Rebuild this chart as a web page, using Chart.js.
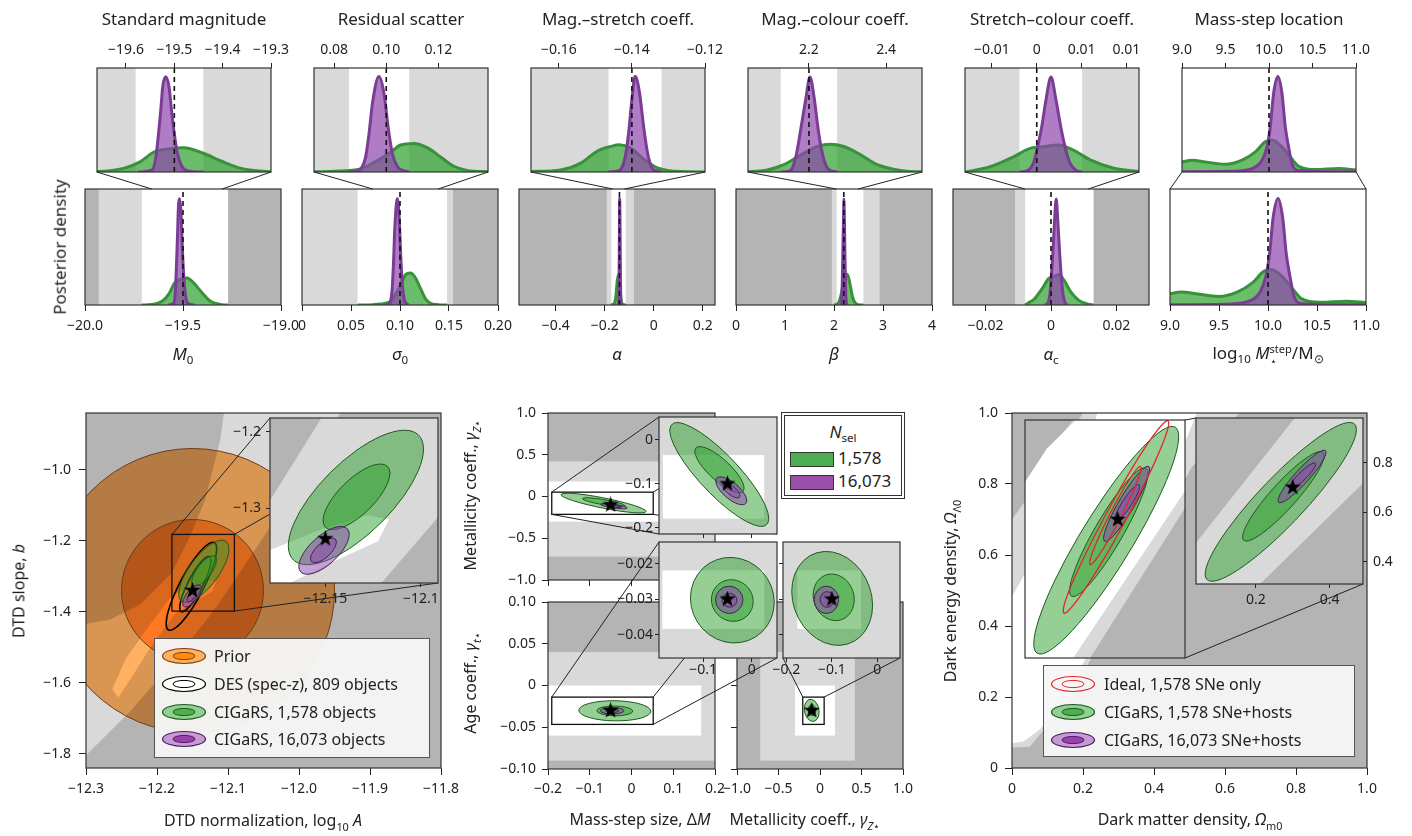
<!DOCTYPE html>
<html>
<head>
<meta charset="utf-8">
<title>CIGaRS posteriors</title>
<script src="https://cdn.jsdelivr.net/npm/chart.js@4.4.1/dist/chart.umd.min.js"></script>
<style>
  body { margin: 0; width: 1412px; height: 836px; position: relative; overflow: hidden; background: #fff;
         font-family: 'Noto Sans', sans-serif; color: #222; }
  canvas { position: absolute; }
  .lb { position: absolute; white-space: nowrap; transform: translate(-50%, -50%); z-index: 5; font-size: 16px; line-height: 1.2; }
  .rot { transform: translate(-50%, -50%) rotate(-90deg); }
  sub, sup { font-size: 0.68em; line-height: 0; }
  .stk { display: inline-block; vertical-align: -0.5em; font-size: 0.65em; line-height: 1; }
  .stk span { display: block; }
  .leg { position: absolute; z-index: 6; box-sizing: border-box; font-size: 16px; }
  .row { position: absolute; height: 20px; line-height: 20px; white-space: nowrap; }
</style>
</head>
<body>
<script>
// ---------- top row: 1-D posteriors ----------
var titles = ['Standard magnitude', 'Residual scatter', 'Mag.\u2013stretch coeff.',
              'Mag.\u2013colour coeff.', 'Stretch\u2013colour coeff.', 'Mass-step location'];
var paramNames = ['<i>M</i><sub>0</sub>', '<i>\u03c3</i><sub>0</sub>', '<i>\u03b1</i>', '<i>\u03b2</i>',
                  '<i>\u03b1</i><sub>c</sub>',
                  'log<sub>10</sub> <i>M</i><span class="stk"><span>step</span><span>\u22c6</span></span>/M<sub>\u2299</sub>'];
var truth = [-19.5, 0.1, -0.14, 2.2, 0, 10.0];

var zoomRange = [[-19.66, -19.3], [0.0723, 0.139], [-0.1676, -0.12], [2.042, 2.493], [-0.008, 0.0114], [9, 11]];
var zoomTicks = [[-19.6, -19.5, -19.4, -19.3], [0.08, 0.10, 0.12], [-0.16, -0.14, -0.12], [2.2, 2.4],
                 [-0.005, 0, 0.005, 0.01], [9, 9.5, 10, 10.5, 11]];
var zoomTickLabels = [['\u221219.6', '\u221219.5', '\u221219.4', '\u221219.3'], ['0.08', '0.10', '0.12'],
                      ['\u22120.16', '\u22120.14', '\u22120.12'], ['2.2', '2.4'],
                      ['\u22120.01', '0', '0.01', '0.01'], ['9.0', '9.5', '10.0', '10.5', '11.0']];
var zoomWhite = [[-19.58, -19.44], [0.0857, 0.1088], [-0.1464, -0.1319], [2.127, 2.273], [-0.00193, 0.00507], [9, 11]];

var fullRange = [[-20, -19], [0, 0.2], [-0.55, 0.25], [0, 4], [-0.03, 0.03], [9, 11]];
var fullTicks = [[-20, -19.5, -19], [0, 0.05, 0.1, 0.15, 0.2], [-0.4, -0.2, 0, 0.2], [0, 1, 2, 3, 4],
                 [-0.02, 0, 0.02], [9, 9.5, 10, 10.5, 11]];
var fullTickLabels = [['\u221220.0', '\u221219.5', '\u221219.0'], ['0', '0.05', '0.10', '0.15', '0.20'],
                      ['\u22120.4', '\u22120.2', '0', '0.2'], ['0', '1', '2', '3', '4'],
                      ['\u22120.02', '0', '0.02'], ['9.0', '9.5', '10.0', '10.5', '11.0']];
var fullLight = [[-19.93, -19.27], [-9, 0.154], [-0.192, -0.081], [1.957, 2.93], [-0.011, 0.013], [9, 11]];
var fullWhite = [[-19.71, -19.27], [0.0567, 0.148], [-0.173, -0.114], [2.055, 2.60], [-0.0079, 0.013], [9, 11]];

// density curves, [value, height as fraction of panel]
var purpleM0 = [[-19.575, 0], [-19.546, 0.02], [-19.539, 0.12], [-19.534, 0.31], [-19.528, 0.6], [-19.524, 0.82],
                [-19.518, 0.916], [-19.511, 0.82], [-19.506, 0.6], [-19.501, 0.4], [-19.494, 0.19], [-19.484, 0.05],
                [-19.473, 0.01], [-19.44, 0]];
var greenM0 = [[-19.71, 0], [-19.66, 0.004], [-19.605, 0.035], [-19.57, 0.1], [-19.543, 0.19], [-19.515, 0.22],
               [-19.48, 0.233], [-19.44, 0.18], [-19.404, 0.108], [-19.362, 0.035], [-19.3, 0.003], [-19.27, 0]];
var purpleS0 = [[0.0857, 0], [0.0889, 0.01], [0.0908, 0.05], [0.0921, 0.145], [0.0934, 0.37], [0.0947, 0.66],
                [0.0972, 0.919], [0.0991, 0.76], [0.1007, 0.435], [0.1023, 0.18], [0.1043, 0.05], [0.107, 0.01], [0.1088, 0]];
var greenS0 = [[0.057, 0], [0.0723, 0.003], [0.08, 0.008], [0.0902, 0.03], [0.0966, 0.11], [0.1017, 0.19],
               [0.1055, 0.26], [0.1106, 0.275], [0.1157, 0.235], [0.1208, 0.145], [0.1259, 0.055], [0.131, 0.015],
               [0.139, 0.003], [0.148, 0]];
var purpleAlpha = [[-0.1464, 0], [-0.145, 0.005], [-0.1432, 0.02], [-0.1418, 0.15], [-0.1409, 0.375], [-0.14, 0.695],
                   [-0.1391, 0.92], [-0.1379, 0.76], [-0.1368, 0.44], [-0.1357, 0.18], [-0.1345, 0.04],
                   [-0.1332, 0.01], [-0.1319, 0]];
var greenAlpha = [[-0.173, 0], [-0.1676, 0.005], [-0.1595, 0.02], [-0.154, 0.085], [-0.1495, 0.2], [-0.1458, 0.245],
                  [-0.1435, 0.262], [-0.1403, 0.23], [-0.1366, 0.12], [-0.133, 0.04], [-0.1266, 0.005], [-0.114, 0]];
var purpleBeta = [[2.127, 0], [2.144, 0.005], [2.157, 0.038], [2.168, 0.18], [2.1786, 0.406], [2.1915, 0.695],
                  [2.2026, 0.913], [2.213, 0.727], [2.224, 0.406], [2.2346, 0.18], [2.2476, 0.038], [2.265, 0.005], [2.273, 0]];
var greenBeta = [[2.0, 0], [2.042, 0.003], [2.092, 0.02], [2.135, 0.07], [2.179, 0.165], [2.222, 0.245], [2.256, 0.268],
                 [2.29, 0.245], [2.334, 0.165], [2.377, 0.07], [2.437, 0.015], [2.493, 0.002], [2.6, 0]];
var purpleAc = [[-0.0019, 0], [-0.00104, 0.013], [-0.00037, 0.086], [0.00011, 0.246], [0.00056, 0.438], [0.00103, 0.695],
                [0.00159, 0.913], [0.00214, 0.695], [0.00267, 0.438], [0.00314, 0.246], [0.0037, 0.086],
                [0.00444, 0.013], [0.00507, 0]];
var greenAc = [[-0.0079, 0], [-0.0065, 0.025], [-0.00519, 0.05], [-0.0026, 0.146], [-0.00074, 0.227], [0.00074, 0.243],
               [0.0024, 0.26], [0.00407, 0.21], [0.0059, 0.12], [0.0085, 0.04], [0.0114, 0.006], [0.013, 0]];
var purpleStep = [[9.0, 0.003], [9.575, 0.007], [9.805, 0.033], [9.92, 0.113], [9.977, 0.242], [10.015, 0.435],
                  [10.053, 0.758], [10.103, 0.919], [10.149, 0.758], [10.187, 0.435], [10.225, 0.242], [10.264, 0.081],
                  [10.322, 0.016], [10.63, 0.003], [11.0, 0.003]];
var greenStep = [[9.0, 0.097], [9.115, 0.113], [9.268, 0.097], [9.498, 0.074], [9.69, 0.113], [9.843, 0.193],
                 [9.957, 0.29], [10.034, 0.307], [10.149, 0.242], [10.245, 0.145], [10.34, 0.055], [10.532, 0.023],
                 [10.8, 0.033], [11.0, 0.02]];
var purpleCurves = [purpleM0, purpleS0, purpleAlpha, purpleBeta, purpleAc, purpleStep];
var greenCurves = [greenM0, greenS0, greenAlpha, greenBeta, greenAc, greenStep];

// ---------- ellipses: [centre x, centre y, half-width x, half-height y, correlation] ----------
// DTD panel
var dtdXTicks = [-12.3, -12.2, -12.1, -12.0, -11.9, -11.8];
var dtdXLabels = ['\u221212.3', '\u221212.2', '\u221212.1', '\u221212.0', '\u221211.9', '\u221211.8'];
var dtdYTicks = [-1.8, -1.6, -1.4, -1.2, -1.0];
var dtdYLabels = ['\u22121.8', '\u22121.6', '\u22121.4', '\u22121.2', '\u22121.0'];
var dtdZoomX = [-12.179, -12.091];
var dtdZoomY = [-1.398, -1.182];
var dtdLightBand = [[-12.103, -0.80], [-12.111, -0.916], [-12.132, -1.084], [-12.153, -1.186], [-12.179, -1.290],
                    [-12.224, -1.380], [-12.266, -1.422], [-12.322, -1.442], [-12.322, -1.844], [-12.3, -1.804],
                    [-12.238, -1.681], [-12.174, -1.534], [-12.121, -1.399], [-12.091, -1.312], [-12.048, -1.183],
                    [-11.999, -1.028], [-11.942, -0.84], [-11.93, -0.80]];
var dtdWhite = [[-12.263, -1.619], [-12.2448, -1.5345], [-12.2097, -1.436], [-12.1786, -1.3544], [-12.1505, -1.3263],
                [-12.128, -1.3094], [-12.1167, -1.315], [-12.1224, -1.3432], [-12.142, -1.3657], [-12.1744, -1.4051],
                [-12.2067, -1.4923], [-12.2377, -1.5907], [-12.2546, -1.6414]];
var dtdPrior = [[-12.15, -1.34, 0.2, 0.4, 0], [-12.15, -1.34, 0.1, 0.2, 0]];
var dtdDES = [[-12.1515, -1.328, 0.0356, 0.124, 0.85], [-12.146, -1.322, 0.022, 0.078, 0.85]];
var dtdGreen = [[-12.134, -1.286, 0.0354, 0.088, 0.72], [-12.1337, -1.2852, 0.0175, 0.043, 0.72]];
var dtdPurple = [[-12.1507, -1.3553, 0.0132, 0.0313, 0.67], [-12.151, -1.3553, 0.0068, 0.0163, 0.67]];
var dtdTruth = [-12.15, -1.34];

// middle block: mass step, metallicity and age coefficients
var dmTicks = [-0.2, -0.1, 0, 0.1, 0.2];
var dmLabels = ['\u22120.2', '\u22120.1', '0', '0.1', '0.2'];
var gzTicks = [-1, -0.5, 0, 0.5, 1];
var gzLabels = ['\u22121.0', '\u22120.5', '0', '0.5', '1.0'];
var gtTicks = [-0.1, -0.05, 0, 0.05, 0.1];
var gtLabels = ['\u22120.10', '\u22120.05', '0', '0.05', '0.10'];
var dmLight = [-9, 9], dmWhite = [-9, 0.167];
var gzLight = [-0.72, 0.42], gzWhite = [-0.30, 0.18];
var gtLight = [-0.09, 0.04], gtWhite = [-0.06, 0];
var ins1X = [-0.191, 0.052], ins1Y = [-0.214, 0.052];
var ins2X = [-0.191, 0.052], ins2Y = [-0.0466, -0.0139];
var ins3X = [-0.2075, 0.05], ins3Y = [-0.0466, -0.0139];
var ins1White = [[-0.183, 0.0256], [-0.179, -0.0346]];
var ins2White = [[-0.184, 0.0256], [-0.0384, -0.0219]];
var ins3White = [[-0.176, -0.036], [-0.0384, -0.0219]];
var zdmGreen = [[-0.0669, -0.0787, 0.102, 0.118, -0.85], [-0.0665, -0.0679, 0.0507, 0.0526, -0.8]];
var zdmPurple = [[-0.0422, -0.1158, 0.032, 0.0317, -0.7], [-0.042, -0.115, 0.018, 0.017, -0.7]];
var zdmTruth = [-0.05, -0.1];
var tdmGreen = [[-0.04, -0.0303, 0.0863, 0.01206, -0.05], [-0.04, -0.0304, 0.043, 0.00587, -0.05]];
var tdmPurple = [[-0.0465, -0.0302, 0.0283, 0.00385, 0], [-0.0459, -0.0303, 0.0152, 0.00197, 0]];
var tdmTruth = [-0.05, -0.03];
var tzGreen = [[-0.0993, -0.0298, 0.089, 0.01324, -0.15], [-0.0959, -0.0295, 0.0453, 0.00657, -0.1]];
var tzPurple = [[-0.1121, -0.0302, 0.0269, 0.00385, 0], [-0.1104, -0.0301, 0.0155, 0.0022, 0]];
var tzTruth = [-0.1, -0.03];

// cosmology panel
var omTicks = [0, 0.2, 0.4, 0.6, 0.8, 1.0];
var omLabels = ['0', '0.2', '0.4', '0.6', '0.8', '1.0'];
var omZoomX = [0.038, 0.49], omZoomY = [0.31, 0.98];
var omLightBand = [[-0.05, 0.66], [0, 0.70], [0.1, 0.84], [0.2, 1.0], [0.23, 1.05], [0.70, 1.05], [0.64, 1.0],
                   [0.505, 0.846], [0.35, 0.55], [0.16, 0.19], [0.05, 0.06], [0, 0.058], [-0.05, 0.055]];
var omWhiteBand = [[-0.05, 0.45], [0, 0.483], [0.1, 0.66], [0.2, 0.86], [0.24, 1.0], [0.25, 1.05], [0.53, 1.05],
                   [0.52, 1.0], [0.505, 0.96], [0.4, 0.72], [0.25, 0.39], [0.145, 0.192], [0.08, 0.11],
                   [0.033, 0.075], [0, 0.07], [-0.05, 0.07]];
var omRectLight = [[0, 0.74], [0.039, 0.79], [0.1, 0.885], [0.17, 0.975], [0.19, 1.0], [0.66, 1.0], [0.222, 0.31],
                   [0.195, 0.27], [0, 0.27]];
var omRectWhite = [[0, 0.76], [0.039, 0.807], [0.1, 0.9], [0.183, 0.981], [0.2, 1.0], [0.638, 1.0], [0.174, 0.31],
                   [0.147, 0.27], [0, 0.27]];
var omInsetDarkUL = [[0, 0.41], [0.0397, 0.48], [0.302, 0.974], [0.32, 1.0], [0, 1.0]];
var omInsetDarkLR = [[0.19, 0.28], [0.212, 0.311], [0.492, 0.72], [0.52, 0.76], [0.52, 0.28]];
var omGreen = [[0.2675, 0.6416, 0.2047, 0.3205, 0.91], [0.2745, 0.664, 0.1105, 0.181, 0.91]];
var omPurple = [[0.325, 0.744, 0.065, 0.106, 0.92], [0.3265, 0.7465, 0.0355, 0.052, 0.9]];
var omIdeal = [[0.295, 0.707, 0.149, 0.271, 0.976], [0.2933, 0.711, 0.0727, 0.1385, 0.97]];
var omTruth = [0.3, 0.7];

// ---------- styling ----------
var INK = '#222', DARK = '#b4b4b4', LIGHT = '#d9d9d9', WHITE = '#ffffff';
var G_FILL = 'rgba(44,160,44,0.7)', G_LINE = '#37923a', P_FILL = 'rgba(142,68,173,0.7)', P_LINE = '#7a3d96';
var green2d = { fill: 'rgba(44,160,44,0.5)', stroke: '#1f5a1f', lw: 1 };
var purple2d = { fill: 'rgba(142,68,173,0.5)', stroke: '#4a1f5e', lw: 1 };
Chart.defaults.font.family = "'Noto Sans', sans-serif";
Chart.defaults.font.size = 14;
Chart.defaults.color = INK;

var M = 50;   // canvas margin around every plot area

function star(size) {
    var c = document.createElement('canvas');
    c.width = c.height = size;
    var g = c.getContext('2d');
    g.beginPath();
    for (var i = 0; i < 10; i++) {
        var r = i % 2 ? size * 0.2 : size / 2, a = -Math.PI / 2 + i * Math.PI / 5;
        g.lineTo(size / 2 + r * Math.cos(a), size / 2 + r * Math.sin(a));
    }
    g.closePath();
    g.fillStyle = '#000';
    g.fill();
    return c;
}
var STAR = star(17);

function ellipse(ctx, xs, ys, e, st) {
    var px = xs.getPixelForValue(e[0]), py = ys.getPixelForValue(e[1]);
    var kx = xs.getPixelForValue(e[0] + e[2]) - px, ky = ys.getPixelForValue(e[1] + e[3]) - py;
    ctx.save();
    ctx.beginPath();
    ctx.save();
    ctx.transform(kx, ky * e[4], 0, ky * Math.sqrt(1 - e[4] * e[4]), px, py);
    ctx.arc(0, 0, 1, 0, 2 * Math.PI);
    ctx.restore();
    if (st.fill) {
        ctx.globalCompositeOperation = st.op || 'source-over';
        ctx.fillStyle = st.fill;
        ctx.fill();
        ctx.globalCompositeOperation = 'source-over';
    }
    if (st.stroke) {
        ctx.strokeStyle = st.stroke;
        ctx.lineWidth = st.lw || 1;
        ctx.stroke();
    }
    ctx.restore();
}

function layers(L) {
    return {
        id: 'layers',
        beforeDatasetsDraw: function (chart) {
            var ctx = chart.ctx, a = chart.chartArea, x = chart.scales.x, y = chart.scales.y;
            ctx.save();
            ctx.beginPath();
            ctx.rect(a.left, a.top, a.width, a.height);
            ctx.clip();
            if (L.base) {
                ctx.fillStyle = L.base;
                ctx.fillRect(a.left, a.top, a.width, a.height);
            }
            (L.rects || []).forEach(function (r) {
                var x0 = r.x ? x.getPixelForValue(r.x[0]) : a.left, x1 = r.x ? x.getPixelForValue(r.x[1]) : a.right;
                var y0 = r.y ? y.getPixelForValue(r.y[1]) : a.top, y1 = r.y ? y.getPixelForValue(r.y[0]) : a.bottom;
                ctx.fillStyle = r.c;
                ctx.fillRect(x0, y0, x1 - x0, y1 - y0);
            });
            (L.polys || []).forEach(function (p) {
                ctx.beginPath();
                p.pts.forEach(function (q, i) {
                    var px = x.getPixelForValue(q[0]), py = y.getPixelForValue(q[1]);
                    if (i) ctx.lineTo(px, py); else ctx.moveTo(px, py);
                });
                ctx.closePath();
                ctx.fillStyle = p.c;
                ctx.fill();
            });
            (L.ells || []).forEach(function (g) {
                g.e.forEach(function (e) { ellipse(ctx, x, y, e, g); });
            });
            ctx.restore();
        },
        afterDatasetsDraw: function (chart) {
            if (!L.box) return;
            var ctx = chart.ctx, x = chart.scales.x, y = chart.scales.y;
            var x0 = x.getPixelForValue(L.box.x[0]), x1 = x.getPixelForValue(L.box.x[1]);
            var y0 = y.getPixelForValue(L.box.y[1]), y1 = y.getPixelForValue(L.box.y[0]);
            ctx.save();
            ctx.strokeStyle = '#111';
            ctx.lineWidth = 1.3;
            ctx.strokeRect(x0, y0, x1 - x0, y1 - y0);
            ctx.restore();
        },
        afterDraw: function (chart) {
            var ctx = chart.ctx, a = chart.chartArea;
            ctx.save();
            ctx.strokeStyle = '#333';
            ctx.lineWidth = 1.2;
            ctx.strokeRect(a.left, a.top, a.width, a.height);
            ctx.restore();
        }
    };
}

// an axis takes the whole margin on its side, so its labels are not clipped
function axis(o) {
    return {
        type: 'linear', axis: o.axis, position: o.pos, min: o.r[0], max: o.r[1],
        display: !!o.t,
        afterBuildTicks: function (s) { if (o.t) s.ticks = o.t.map(function (v) { return { value: v }; }); },
        afterFit: function (s) {
            if (s.isHorizontal()) s.height = o.t ? M : 0; else s.width = o.t ? M : 0;
            s.paddingLeft = s.paddingRight = s.paddingTop = s.paddingBottom = 0;
        },
        grid: { drawOnChartArea: false, drawTicks: true, tickLength: o.tl || 5, color: INK, lineWidth: 1 },
        border: { display: false },
        ticks: {
            display: !!o.lab, padding: o.pad === undefined ? 4 : o.pad, color: INK, maxRotation: 0, minRotation: 0,
            autoSkip: false, callback: function (v, i) { return o.lab ? o.lab[i] : ''; }
        }
    };
}

function panel(box, cfg) {
    var cv = document.createElement('canvas');
    cv.width = Math.round(box.w) + 2 * M;
    cv.height = Math.round(box.h) + 2 * M;
    cv.style.left = (Math.round(box.x) - M) + 'px';
    cv.style.top = (Math.round(box.y) - M) + 'px';
    document.body.appendChild(cv);
    cfg.x.axis = 'x';
    cfg.y.axis = 'y';
    var pad = { left: M, right: M, top: M, bottom: M };
    if (cfg.x.t) pad[cfg.x.pos] = 0;
    if (cfg.y.t) pad[cfg.y.pos] = 0;
    var ch = new Chart(cv, {
        type: 'line',
        data: { datasets: cfg.datasets || [] },
        options: {
            responsive: false, animation: false, devicePixelRatio: 1, events: [],
            layout: { padding: pad },
            plugins: { legend: { display: false }, tooltip: { enabled: false } },
            scales: { x: axis(cfg.x), y: axis(cfg.y) }
        },
        plugins: [layers(cfg.layers || {})]
    });
    return { ch: ch, ox: Math.round(box.x) - M, oy: Math.round(box.y) - M };
}

function pts(a) { return a.map(function (p) { return { x: p[0], y: p[1] }; }); }
function starSet(p) {
    return { data: [{ x: p[0], y: p[1] }], showLine: false, pointStyle: STAR, pointRadius: 6, borderWidth: 0 };
}
function curveSets(i) {
    return [
        { data: [{ x: truth[i], y: 0 }, { x: truth[i], y: 1 }], borderColor: '#111', borderWidth: 1.6,
          borderDash: [5, 4], pointRadius: 0, fill: false },
        { data: pts(purpleCurves[i]), borderColor: P_LINE, backgroundColor: P_FILL, borderWidth: 3, pointRadius: 0,
          fill: 'origin', cubicInterpolationMode: 'monotone' },
        { data: pts(greenCurves[i]), borderColor: G_LINE, backgroundColor: G_FILL, borderWidth: 3, pointRadius: 0,
          fill: 'origin', cubicInterpolationMode: 'monotone' }
    ];
}

function lineLayer() {
    var c = document.createElement('canvas');
    c.width = 1412; c.height = 836;
    c.style.left = '0px'; c.style.top = '0px';
    document.body.appendChild(c);
    var g = c.getContext('2d');
    g.strokeStyle = INK;
    g.lineWidth = 1;
    return g;
}
function seg(g, p, q) { g.beginPath(); g.moveTo(p[0], p[1]); g.lineTo(q[0], q[1]); g.stroke(); }
function areaCorner(P, c) {
    var a = P.ch.chartArea;
    return [P.ox + (c[1] === 'l' ? a.left : a.right), P.oy + (c[0] === 't' ? a.top : a.bottom)];
}
function boxCorner(P, c, xr, yr) {
    return [P.ox + P.ch.scales.x.getPixelForValue(c[1] === 'l' ? xr[0] : xr[1]),
            P.oy + P.ch.scales.y.getPixelForValue(c[0] === 't' ? yr[1] : yr[0])];
}
function connect(g, main, xr, yr, inset, pairs) {
    pairs.forEach(function (p) { seg(g, boxCorner(main, p[0], xr, yr), areaCorner(inset, p[1])); });
}

// ---------- top row ----------
var tops = [], bots = [];
for (var i = 0; i < 6; i++) {
    bots.push(panel({ x: 85 + 217 * i, y: 189, w: 196, h: 116 }, {
        x: { pos: 'bottom', r: fullRange[i], t: fullTicks[i], lab: fullTickLabels[i], tl: 6, pad: 7 },
        y: { pos: 'left', r: [0, 1] },
        datasets: curveSets(i),
        layers: i === 5 ? { base: WHITE } :
            { base: DARK, rects: [{ x: fullLight[i], c: LIGHT }, { x: fullWhite[i], c: WHITE }] }
    }));
    tops.push(panel({ x: 97 + 217 * i, y: 68, w: 174, h: 104 }, {
        x: { pos: 'top', r: zoomRange[i], t: zoomTicks[i], lab: zoomTickLabels[i], tl: 5, pad: 5 },
        y: { pos: 'left', r: [0, 1] },
        datasets: curveSets(i),
        layers: i === 5 ? { base: WHITE } : { base: LIGHT, rects: [{ x: zoomWhite[i], c: WHITE }] }
    }));
}
var gTop = lineLayer();
for (i = 0; i < 6; i++) {
    var b = bots[i], bx = b.ch.scales.x, ba = b.ch.chartArea;
    seg(gTop, areaCorner(tops[i], 'bl'), [b.ox + bx.getPixelForValue(zoomRange[i][0]), b.oy + ba.top]);
    seg(gTop, areaCorner(tops[i], 'br'), [b.ox + bx.getPixelForValue(zoomRange[i][1]), b.oy + ba.top]);
}

// ---------- DTD panel ----------
var dtd = panel({ x: 86, y: 413, w: 355, h: 355 }, {
    x: { pos: 'bottom', r: [-12.3, -11.8], t: dtdXTicks, lab: dtdXLabels, tl: 7, pad: 6 },
    y: { pos: 'left', r: [-1.84, -0.84], t: dtdYTicks, lab: dtdYLabels, tl: 7, pad: 8 },
    datasets: [starSet(dtdTruth)],
    layers: {
        base: DARK, polys: [{ pts: dtdLightBand, c: LIGHT }, { pts: dtdWhite, c: WHITE }],
        ells: [{ e: dtdPrior, fill: '#ffb060', op: 'multiply', stroke: '#6e3c12', lw: 1 },
               { e: dtdDES, stroke: '#000', lw: 1.6 },
               { e: dtdGreen, fill: green2d.fill, stroke: green2d.stroke, lw: 1 },
               { e: dtdPurple, fill: purple2d.fill, stroke: purple2d.stroke, lw: 1 }],
        box: { x: dtdZoomX, y: dtdZoomY }
    }
});
var gDtd = lineLayer();
var dtdIn = panel({ x: 270, y: 418, w: 168, h: 165 }, {
    x: { pos: 'bottom', r: dtdZoomX, t: [-12.15, -12.1], lab: ['\u221212.15', '\u221212.1'], tl: 4, pad: 4 },
    y: { pos: 'left', r: dtdZoomY, t: [-1.3, -1.2], lab: ['\u22121.3', '\u22121.2'], tl: 4, pad: 5 },
    datasets: [starSet(dtdTruth)],
    layers: {
        base: DARK, polys: [{ pts: dtdLightBand, c: LIGHT }, { pts: dtdWhite, c: WHITE }],
        ells: [{ e: dtdGreen, fill: green2d.fill, stroke: green2d.stroke, lw: 1 },
               { e: dtdPurple, fill: purple2d.fill, stroke: purple2d.stroke, lw: 1 }]
    }
});
connect(gDtd, dtd, dtdZoomX, dtdZoomY, dtdIn, [['tl', 'tl'], ['tr', 'tr'], ['br', 'br']]);

// ---------- middle block ----------
function ells2d(g, p) {
    return [{ e: g, fill: green2d.fill, stroke: green2d.stroke, lw: 1 },
            { e: p, fill: purple2d.fill, stroke: purple2d.stroke, lw: 1 }];
}
var pA = panel({ x: 548, y: 413, w: 167, h: 167 }, {
    x: { pos: 'bottom', r: [-0.2, 0.2], t: dmTicks, tl: 6 },
    y: { pos: 'left', r: [-1, 1], t: gzTicks, lab: gzLabels, tl: 6, pad: 6 },
    datasets: [starSet(zdmTruth)],
    layers: { base: DARK, rects: [{ x: dmLight, y: gzLight, c: LIGHT }, { x: dmWhite, y: gzWhite, c: WHITE }],
              ells: ells2d(zdmGreen, zdmPurple), box: { x: ins1X, y: ins1Y } }
});
var pB = panel({ x: 548, y: 602, w: 167, h: 167 }, {
    x: { pos: 'bottom', r: [-0.2, 0.2], t: dmTicks, lab: dmLabels, tl: 6, pad: 6 },
    y: { pos: 'left', r: [-0.1, 0.1], t: gtTicks, lab: gtLabels, tl: 6, pad: 6 },
    datasets: [starSet(tdmTruth)],
    layers: { base: DARK, rects: [{ x: dmLight, y: gtLight, c: LIGHT }, { x: dmWhite, y: gtWhite, c: WHITE }],
              ells: ells2d(tdmGreen, tdmPurple), box: { x: ins2X, y: ins2Y } }
});
var pC = panel({ x: 737, y: 602, w: 166, h: 167 }, {
    x: { pos: 'bottom', r: [-1, 1], t: gzTicks, lab: gzLabels, tl: 6, pad: 6 },
    y: { pos: 'left', r: [-0.1, 0.1], t: gtTicks, tl: 6 },
    datasets: [starSet(tzTruth)],
    layers: { base: DARK, rects: [{ x: gzLight, y: gtLight, c: LIGHT }, { x: gzWhite, y: gtWhite, c: WHITE }],
              ells: ells2d(tzGreen, tzPurple), box: { x: ins3X, y: ins3Y } }
});
var gMid = lineLayer();
var in1 = panel({ x: 659, y: 417, w: 118, h: 117 }, {
    x: { pos: 'bottom', r: ins1X, t: [-0.1, 0], tl: 4 },
    y: { pos: 'left', r: ins1Y, t: [-0.2, -0.1, 0], lab: ['\u22120.2', '\u22120.1', '0'], tl: 4, pad: 2 },
    datasets: [starSet(zdmTruth)],
    layers: { base: LIGHT, rects: [{ x: ins1White[0], y: ins1White[1], c: WHITE }], ells: ells2d(zdmGreen, zdmPurple) }
});
var in2 = panel({ x: 659, y: 542, w: 118, h: 116 }, {
    x: { pos: 'bottom', r: ins2X, t: [-0.1, 0], lab: ['\u22120.1', '0'], tl: 4, pad: 0 },
    y: { pos: 'left', r: ins2Y, t: [-0.04, -0.03, -0.02], lab: ['\u22120.04', '\u22120.03', '\u22120.02'], tl: 4, pad: 2 },
    datasets: [starSet(tdmTruth)],
    layers: { base: LIGHT, rects: [{ x: ins2White[0], y: ins2White[1], c: WHITE }], ells: ells2d(tdmGreen, tdmPurple) }
});
var in3 = panel({ x: 783, y: 542, w: 117, h: 116 }, {
    x: { pos: 'bottom', r: ins3X, t: [-0.2, -0.1, 0], lab: ['\u22120.2', '\u22120.1', '0'], tl: 4, pad: 0 },
    y: { pos: 'left', r: ins3Y, t: [-0.04, -0.03, -0.02], tl: 4 },
    datasets: [starSet(tzTruth)],
    layers: { base: LIGHT, rects: [{ x: ins3White[0], y: ins3White[1], c: WHITE }], ells: ells2d(tzGreen, tzPurple) }
});
connect(gMid, pA, ins1X, ins1Y, in1, [['tl', 'tl'], ['tr', 'tr'], ['bl', 'bl'], ['br', 'br']]);
connect(gMid, pB, ins2X, ins2Y, in2, [['tl', 'tl'], ['tr', 'tr'], ['br', 'br']]);
connect(gMid, pC, ins3X, ins3Y, in3, [['tl', 'bl'], ['tr', 'br']]);

// ---------- cosmology panel ----------
var om = panel({ x: 1012, y: 413, w: 355, h: 355 }, {
    x: { pos: 'bottom', r: [0, 1], t: omTicks, lab: omLabels, tl: 7, pad: 6 },
    y: { pos: 'left', r: [0, 1], t: omTicks, lab: omLabels, tl: 7, pad: 7 },
    layers: { base: DARK, polys: [{ pts: omLightBand, c: LIGHT }, { pts: omWhiteBand, c: WHITE }] }
});
var tl = boxCorner(om, 'tl', omZoomX, omZoomY), br = boxCorner(om, 'br', omZoomX, omZoomY);
var gOm = lineLayer();
var omRect = panel({ x: tl[0], y: tl[1], w: br[0] - tl[0], h: br[1] - tl[1] }, {
    x: { pos: 'bottom', r: omZoomX },
    y: { pos: 'left', r: omZoomY },
    datasets: [starSet(omTruth)],
    layers: { base: DARK, polys: [{ pts: omRectLight, c: LIGHT }, { pts: omRectWhite, c: WHITE }],
              ells: ells2d(omGreen, omPurple).concat([{ e: omIdeal, stroke: '#e3262b', lw: 1.3 }]) }
});
var omIn = panel({ x: 1196, y: 418, w: 167, h: 166 }, {
    x: { pos: 'bottom', r: omZoomX, t: [0.2, 0.4], lab: ['0.2', '0.4'], tl: 4, pad: 4 },
    y: { pos: 'right', r: omZoomY, t: [0.4, 0.6, 0.8], lab: ['0.4', '0.6', '0.8'], tl: 4, pad: 6 },
    datasets: [starSet(omTruth)],
    layers: { base: LIGHT, polys: [{ pts: omInsetDarkUL, c: DARK }, { pts: omInsetDarkLR, c: DARK }],
              ells: ells2d(omGreen, omPurple) }
});
seg(gOm, areaCorner(omRect, 'tr'), areaCorner(omIn, 'tl'));
seg(gOm, areaCorner(omRect, 'br'), areaCorner(omIn, 'br'));

// ---------- text ----------
function label(html, x, y, cls, size) {
    var d = document.createElement('div');
    d.className = 'lb' + (cls ? ' ' + cls : '');
    d.innerHTML = html;
    d.style.left = x + 'px';
    d.style.top = y + 'px';
    if (size) d.style.fontSize = size + 'px';
    document.body.appendChild(d);
}
for (i = 0; i < 6; i++) {
    label(titles[i], 184 + 217 * i, 19, '', 17);
    label(paramNames[i], 183 + 217 * i, 354, '', 17);
}
label('Posterior density', 60, 247, 'rot', 17);
label('DTD normalization, log<sub>10</sub> <i>A</i>', 263, 821);
label('DTD slope, <i>b</i>', 19, 591, 'rot');
label('Metallicity coeff., <i>\u03b3</i><sub><i>Z</i>\u22c6</sub>', 471, 495, 'rot');
label('Age coeff., <i>\u03b3</i><sub><i>t</i>\u22c6</sub>', 471, 683, 'rot');
label('Mass-step size, \u0394<i>M</i>', 640, 820);
label('Metallicity coeff., <i>\u03b3</i><sub><i>Z</i>\u22c6</sub>', 805, 820);
label('Dark matter density, <i>\u03a9</i><sub>m0</sub>', 1190, 820);
label('Dark energy density, <i>\u03a9</i><sub>\u039b0</sub>', 951, 591, 'rot');

function icon(o) {
    var s = '<svg width="46" height="18" style="position:absolute;left:' + o.x + 'px;top:' + (o.y - 9) + 'px">';
    s += '<ellipse cx="23" cy="9" rx="21.5" ry="7.5" fill="' + o.f1 + '" stroke="' + o.s + '" stroke-width="1.2"/>';
    s += '<ellipse cx="23" cy="9" rx="11" ry="3.6" fill="' + o.f2 + '" stroke="' + o.s + '" stroke-width="1"/>';
    return s + '</svg>';
}
function legendBox(x, y, w, h, rows, iconX, textX) {
    var d = document.createElement('div');
    d.className = 'leg';
    d.style.cssText = 'left:' + x + 'px;top:' + y + 'px;width:' + w + 'px;height:' + h + 'px;' +
        'background:rgba(246,246,246,0.96);border:1px solid #555;';
    var html = '';
    rows.forEach(function (r) {
        html += icon({ x: iconX, y: r.y, f1: r.f1, f2: r.f2, s: r.s });
        html += '<div class="row" style="left:' + textX + 'px;top:' + (r.y - 10) + 'px">' + r.t + '</div>';
    });
    d.innerHTML = html;
    document.body.appendChild(d);
}
legendBox(154, 638, 276, 120, [
    { y: 17, f1: '#ffb060', f2: '#ff8a10', s: '#7a4414', t: 'Prior' },
    { y: 45, f1: '#ffffff', f2: '#ffffff', s: '#000000', t: 'DES (spec-z), 809 objects' },
    { y: 73, f1: '#90d090', f2: '#4caf50', s: '#1f5a1f', t: 'CIGaRS, 1,578 objects' },
    { y: 100, f1: '#c79ad6', f2: '#9c3fb3', s: '#4a1f5e', t: 'CIGaRS, 16,073 objects' }
], 6, 59);
legendBox(1043, 665, 312, 92, [
    { y: 18, f1: 'none', f2: 'none', s: '#e3262b', t: 'Ideal, 1,578 SNe only' },
    { y: 46, f1: '#90d090', f2: '#4caf50', s: '#1f5a1f', t: 'CIGaRS, 1,578 SNe+hosts' },
    { y: 74, f1: '#c79ad6', f2: '#9c3fb3', s: '#4a1f5e', t: 'CIGaRS, 16,073 SNe+hosts' }
], 6, 60);

var ns = document.createElement('div');
ns.className = 'leg';
ns.style.cssText = 'left:781px;top:412px;width:124px;height:87px;background:#fff;border:4px double #333;font-size:17px;';
ns.innerHTML = '<div style="position:absolute;left:0;right:0;top:4px;text-align:center"><i>N</i><sub>sel</sub></div>' +
    '<div style="position:absolute;left:5px;top:36px;width:42px;height:13px;background:#4caf50;border:1px solid #333"></div>' +
    '<div class="row" style="left:53px;top:32px">1,578</div>' +
    '<div style="position:absolute;left:5px;top:59px;width:42px;height:13px;background:#9b4fa8;border:1px solid #333"></div>' +
    '<div class="row" style="left:53px;top:55px">16,073</div>';
document.body.appendChild(ns);
</script>
</body>
</html>
